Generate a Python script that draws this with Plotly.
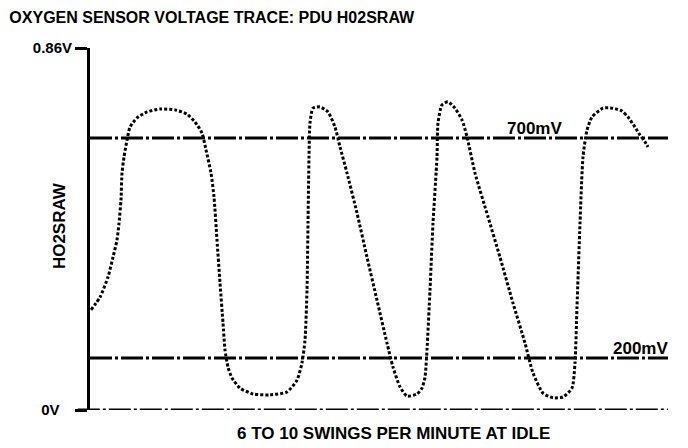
import plotly.graph_objects as go

# Time (arbitrary seconds) and HO2SRAW voltage
time_s = [0.1, 1.0, 1.8, 2.3, 2.7, 2.9, 3.1, 3.2, 3.4, 3.7, 4.0, 4.7, 5.7, 7.0, 8.5, 9.7, 10.5, 11.2, 11.6, 12.1,
          12.4, 12.7, 13.0, 13.3, 13.5, 13.8, 14.2, 15.0, 16.3, 18.0, 19.7, 20.7, 21.2, 21.5, 21.7, 21.8, 21.9, 22.0,
          22.3, 23.0, 23.8, 24.5, 25.0, 25.7, 26.7, 27.7, 28.7, 29.7, 30.3, 31.0, 31.7, 32.7, 33.2, 33.5, 33.7, 34.0,
          34.3, 34.7, 34.8, 35.2, 35.8, 36.5, 37.2, 37.7, 38.5, 39.8, 41.0, 42.3, 43.5, 44.3, 45.3, 46.3, 47.3, 48.2,
          48.5, 48.7, 49.0, 49.3, 49.7, 50.2, 51.3, 52.3, 53.2, 53.8, 54.5, 55.0, 55.5, 55.8]
volts = [0.238, 0.268, 0.316, 0.363, 0.404, 0.444, 0.499, 0.563, 0.601, 0.641, 0.672, 0.694, 0.708, 0.715, 0.713,
         0.703, 0.684, 0.658, 0.618, 0.563, 0.506, 0.404, 0.302, 0.207, 0.143, 0.102, 0.076, 0.052, 0.038, 0.036,
         0.043, 0.071, 0.112, 0.166, 0.285, 0.444, 0.601, 0.682, 0.717, 0.720, 0.708, 0.672, 0.625, 0.563, 0.468,
         0.363, 0.261, 0.159, 0.102, 0.055, 0.033, 0.038, 0.052, 0.078, 0.143, 0.285, 0.444, 0.601, 0.682, 0.725,
         0.732, 0.717, 0.689, 0.649, 0.563, 0.459, 0.363, 0.254, 0.159, 0.088, 0.040, 0.029, 0.031, 0.052, 0.112,
         0.245, 0.444, 0.601, 0.665, 0.696, 0.717, 0.717, 0.710, 0.696, 0.672, 0.653, 0.637, 0.625]

# Reference lines (schematic position on the scope) and their labels
ref_levels = [0.646, 0.1235]
ref_labels = ["700mV", "200mV"]
ref_label_x = [44.4, 55.0]

y_tick_vals = [0, 0.86]
y_tick_text = ["0V&nbsp;&nbsp;&nbsp;", "0.86V"]

x_range = [0, 58]
y_range = [0, 0.86]
x_end = 57.8

FONT = "Liberation Sans, Arial, Helvetica, sans-serif"

fig = go.Figure()
fig.add_trace(go.Scatter(
    x=time_s, y=volts, mode="lines",
    line=dict(color="black", width=3, dash="3px,2px", shape="spline", smoothing=0.6),
    showlegend=False, hoverinfo="skip"))

dash_pat = "22px,3px,3px,3px"
# baseline 0V (dash-dot), extends slightly left of axis
fig.add_shape(type="line", xref="paper", yref="y", x0=-0.021, x1=x_end / x_range[1], y0=0, y1=0,
              line=dict(color="black", width=3, dash=dash_pat))
for lvl, lab, lx in zip(ref_levels, ref_labels, ref_label_x):
    fig.add_shape(type="line", xref="x", yref="y", x0=0, x1=x_end, y0=lvl, y1=lvl,
                  line=dict(color="black", width=3, dash=dash_pat))
    fig.add_annotation(x=lx, y=lvl, xref="x", yref="y", text="<b>" + lab + "</b>", showarrow=False,
                       xanchor="center", yanchor="bottom", yshift=-2,
                       font=dict(family=FONT, size=17, color="black"))

fig.add_annotation(xref="paper", yref="paper", x=-0.072, y=0.51, text="<b>HO2SRAW</b>", textangle=-90,
                   showarrow=False, font=dict(family=FONT, size=17, color="black"))
fig.add_annotation(xref="paper", yref="paper", x=0.524, y=-0.066, text="<b>6 TO 10 SWINGS PER MINUTE AT IDLE</b>",
                   showarrow=False, yanchor="middle", font=dict(family=FONT, size=17, color="black"))

fig.update_layout(
    width=680, height=440,
    margin=dict(l=82, r=18, t=40, b=38),
    paper_bgcolor="white", plot_bgcolor="white",
    title=dict(text="<b>OXYGEN SENSOR VOLTAGE TRACE: PDU H02SRAW</b>", x=0.002, xanchor="left",
               y=1 - 9 / 440, yanchor="middle", font=dict(family=FONT, size=16, color="black")),
    xaxis=dict(range=x_range, showgrid=False, zeroline=False, showline=False, showticklabels=False, ticks=""),
    yaxis=dict(range=y_range, showgrid=False, zeroline=False, showline=True, linewidth=3, linecolor="black",
               tickvals=y_tick_vals, ticktext=["<b>%s</b>" % t for t in y_tick_text],
               ticks="outside", ticklen=12, tickwidth=3, tickcolor="black",
               tickfont=dict(family=FONT, size=15, color="black")),
)

fig.write_html("out.html")
